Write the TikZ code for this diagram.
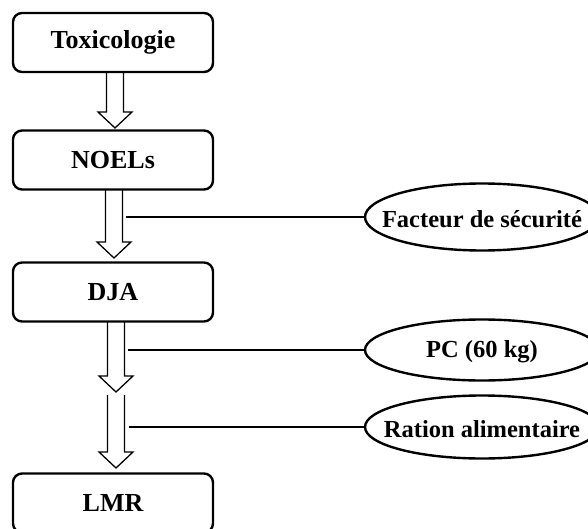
\documentclass[tikz,border=0pt]{standalone}
\usepackage{fontspec}
\setmainfont{Liberation Serif}
\usetikzlibrary{shapes.geometric,calc}
\tikzset{
  stepbox/.style={draw, line width=2.4pt, rounded corners=9pt, minimum width=200pt, minimum height=59pt, inner sep=0pt,
    font=\bfseries\fontsize{26}{30}\selectfont},
  oval/.style={draw, ellipse, line width=2.4pt, inner sep=0pt},
  lbl/.style={inner sep=0pt, font=\bfseries\fontsize{24.5}{29}\selectfont},
  link/.style={line width=2.4pt},
  blk/.style={line width=1.3pt, line join=miter}
}
\newcommand\blockarrow[2]{%
  \draw[blk] let \p1=(#1), \p2=(#2) in
    (\x1-8.5pt,\y1) -- (\x1-8.5pt,\y2+16pt) -- (\x1-17pt,\y2+16pt) -- (\x1,\y2)
    -- (\x1+17pt,\y2+16pt) -- (\x1+8.5pt,\y2+16pt) -- (\x1+8.5pt,\y1);}
\begin{document}
\begin{tikzpicture}[x=1pt,y=-1pt]
\useasboundingbox (0,0) rectangle (588,529);
\clip (0,0) rectangle (588,529);
\node[stepbox] (tox) at (113,42.5) {Toxicologie};
\node[stepbox] (noel) at (113,160) {NOELs};
\node[stepbox] (dja) at (113,292) {DJA};
\node[stepbox] (lmr) at (113,503) {LMR};
\node[oval, minimum width=234pt, minimum height=67pt] (fs) at (482,217) {};
\node[lbl] (fst) at (482,219) {Facteur de sécurité};
\node[oval, minimum width=234pt, minimum height=61pt] (pc) at (482,350) {};
\node[lbl] (pct) at (482,352) {PC (60 kg)};
\node[oval, minimum width=234pt, minimum height=63pt] (ra) at (482,427) {};
\node[lbl] (rat) at (482,429) {Ration alimentaire};
% block arrows
\coordinate (a1s) at (115,71.5);  \coordinate (a1e) at (115,128);
\coordinate (a2s) at (114,189.5); \coordinate (a2e) at (114,258);
\coordinate (a3s) at (116,321.5); \coordinate (a3e) at (116,392);
\coordinate (a4s) at (116,395);   \coordinate (a4e) at (116,468);
\blockarrow{a1s}{a1e}
\blockarrow{a2s}{a2e}
\blockarrow{a3s}{a3e}
\blockarrow{a4s}{a4e}
% side links
\coordinate (l1) at (126,217);
\coordinate (l2) at (128,350);
\coordinate (l3) at (129,427);
\draw[link] (l1) -- (l1 -| fs.west);
\draw[link] (l2) -- (l2 -| pc.west);
\draw[link] (l3) -- (l3 -| ra.west);
\end{tikzpicture}
\end{document}
